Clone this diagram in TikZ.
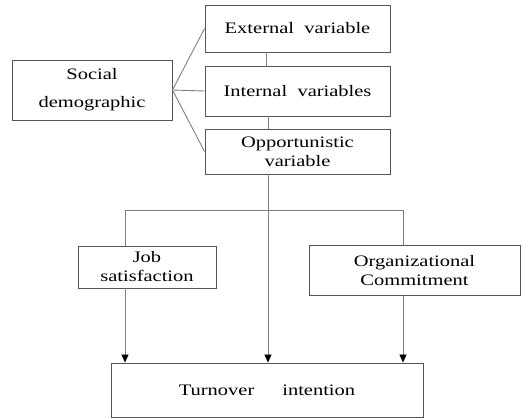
\documentclass[tikz,border=0pt]{standalone}
\usepackage{fontspec}
\setmainfont[FakeStretch=1.28]{Liberation Serif}
\usetikzlibrary{arrows.meta}
\definecolor{boxline}{HTML}{555555}
\definecolor{conline}{HTML}{808080}
\tikzset{
  box/.style={draw=boxline, line width=0.9pt, rectangle, inner sep=0pt, align=center,
    font=\fontsize{16}{19}\selectfont, text=black},
  con/.style={draw=conline, line width=0.9pt},
  arr/.style={con, -{Triangle[width=7pt,length=8pt,fill=black,color=black]}}
}
\begin{document}
\begin{tikzpicture}[x=1pt,y=-1pt]
\useasboundingbox (0,0) rectangle (522,419);
\node[box, minimum width=160pt, minimum height=60pt, font=\fontsize{16}{28}\selectfont] (soc) at (92,90) {Social\\demographic};
\node[box, minimum width=185pt, minimum height=47pt] (ext) at (297.5,28.5) {External~~variable};
\node[box, minimum width=185pt, minimum height=50pt] (int) at (297.5,91) {Internal~~variables};
\node[box, minimum width=185pt, minimum height=45pt] (opp) at (297.5,151.5) {Opportunistic\\variable};
\node[box, minimum width=138pt, minimum height=42pt] (job) at (147,267) {Job\\satisfaction};
\node[box, minimum width=211pt, minimum height=50pt] (org) at (414.5,270.5) {Organizational\\Commitment};
\node[box, minimum width=312pt, minimum height=54pt] (tur) at (267,390) {Turnover\hspace*{28pt}intention};
\coordinate (hl) at (125,210);
\coordinate (hr) at (403,210);
\coordinate (hm) at (268,210);
\draw[con] (soc.east) -- (ext.west);
\draw[con] (soc.east) -- (int.west);
\draw[con] (soc.east) -- (opp.west);
\draw[con] (ext.south -| 266,0) -- (int.north -| 266,0);
\draw[con] (int.south -| 268,0) -- (opp.north -| 268,0);
\draw[con] (hl) -- (hr);
\draw[con] (hl) -- (job.north -| hl);
\draw[con] (hr) -- (org.north -| hr);
\draw[arr] (opp.south -| hm) -- (tur.north -| hm);
\draw[arr] (job.south -| hl) -- (tur.north -| hl);
\draw[arr] (org.south -| hr) -- (tur.north -| hr);
\end{tikzpicture}
\end{document}
